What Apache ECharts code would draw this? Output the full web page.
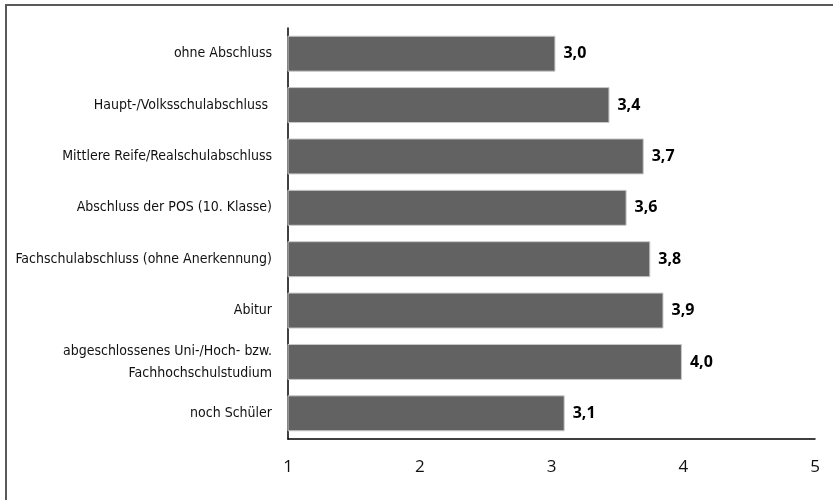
<!DOCTYPE html>
<html>
<head>
<meta charset="utf-8">
<script src="https://cdn.jsdelivr.net/npm/echarts@6/dist/echarts.min.js"></script>
<style>
html,body{margin:0;padding:0;background:#fff;}
#chart{width:833px;height:500px;}
</style>
</head>
<body>
<div id="chart"></div>
<script>
const categories = [
  "ohne Abschluss",
  "Haupt-/Volksschulabschluss ",
  "Mittlere Reife/Realschulabschluss",
  "Abschluss der POS (10. Klasse)",
  "Fachschulabschluss (ohne Anerkennung)",
  "Abitur",
  "abgeschlossenes Uni-/Hoch- bzw.\nFachhochschulstudium",
  "noch Schüler"
];
const values = [3.03, 3.44, 3.70, 3.57, 3.75, 3.85, 3.99, 3.10];
const valueLabels = ["3,0", "3,4", "3,7", "3,6", "3,8", "3,9", "4,0", "3,1"];
const xTicks = [1, 2, 3, 4, 5];

const chart = echarts.init(document.getElementById('chart'), null, {renderer: 'canvas'});
chart.setOption({
  animation: false,
  backgroundColor: '#fff',
  graphic: [{
    type: 'rect',
    shape: {x: 6, y: 5, width: 1000, height: 1000},
    style: {fill: 'none', stroke: '#595959', lineWidth: 2},
    silent: true
  }],
  grid: {left: 288, right: 18, top: 28, bottom: 61, containLabel: false},
  xAxis: {
    type: 'value',
    min: xTicks[0],
    max: xTicks[xTicks.length - 1],
    interval: 1,
    axisLine: {show: true, lineStyle: {color: '#000', width: 1.5}},
    axisTick: {show: false},
    splitLine: {show: false},
    axisLabel: {
      margin: 20,
      fontFamily: 'Open Sans',
      fontSize: 17,
      color: '#111',
      formatter: v => String(v)
    }
  },
  yAxis: {
    type: 'category',
    inverse: true,
    data: categories,
    axisLine: {show: true, lineStyle: {color: '#000', width: 1.5}},
    axisTick: {show: false},
    axisLabel: {
      margin: 16,
      fontFamily: 'DejaVu Sans Condensed',
      fontSize: 14,
      color: '#111',
      lineHeight: 22
    }
  },
  series: [{
    type: 'bar',
    data: values,
    barWidth: '70%',
    itemStyle: {color: '#626262', borderColor: '#c8c8c8', borderWidth: 1},
    label: {
      show: true,
      position: 'right',
      distance: 8,
      fontFamily: 'Open Sans',
      fontWeight: 'bold',
      fontSize: 16,
      color: '#000',
      formatter: p => valueLabels[p.dataIndex]
    }
  }]
});
</script>
</body>
</html>
